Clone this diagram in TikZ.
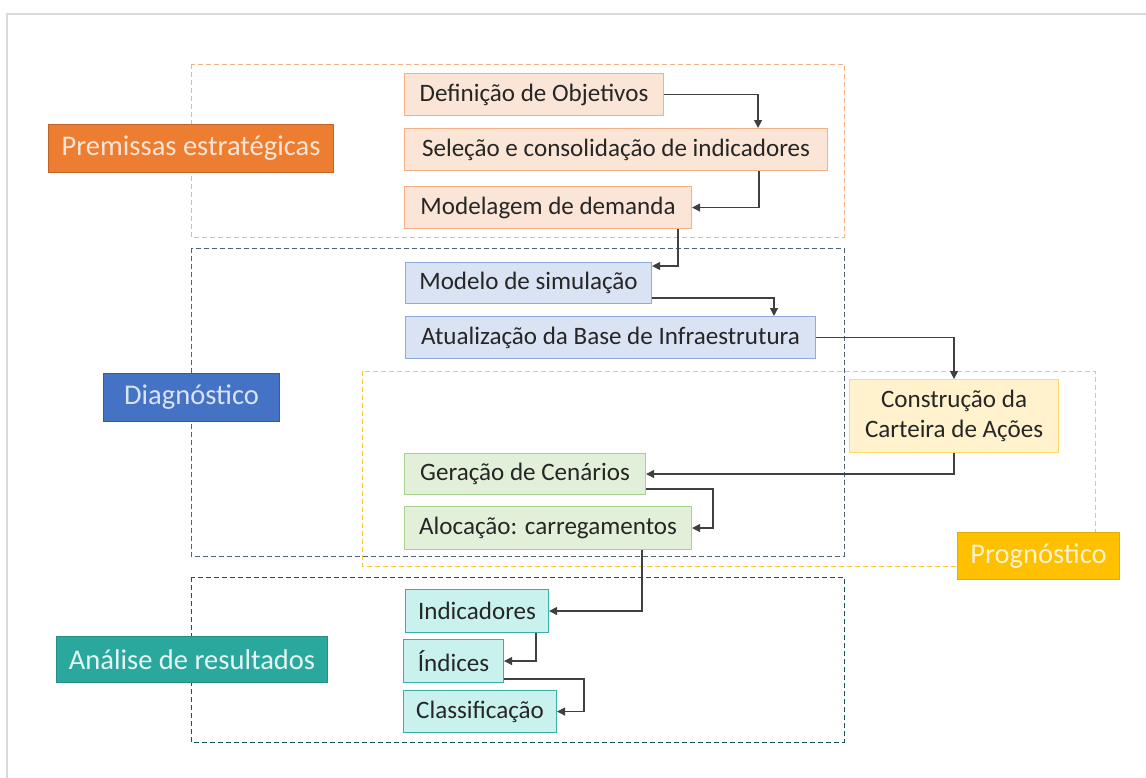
\documentclass[tikz,border=0pt]{standalone}
\usepackage{fontspec}
\setmainfont{Carlito}
\usetikzlibrary{arrows.meta,calc}

\definecolor{oraFill}{HTML}{FBE5D6}
\definecolor{oraLine}{HTML}{F4B183}
\definecolor{bluFill}{HTML}{DAE3F3}
\definecolor{bluLine}{HTML}{8FAADC}
\definecolor{yelFill}{HTML}{FFF2CC}
\definecolor{yelLine}{HTML}{FFD966}
\definecolor{grnFill}{HTML}{E2F0D9}
\definecolor{grnLine}{HTML}{A9D18E}
\definecolor{cyaFill}{HTML}{C9F2EF}
\definecolor{cyaLine}{HTML}{3AAFA9}
\definecolor{oraTag}{HTML}{ED7D31}
\definecolor{bluTag}{HTML}{4472C4}
\definecolor{teaTag}{HTML}{2BA89E}
\definecolor{golTag}{HTML}{FFC000}
\definecolor{slate}{HTML}{50627A}
\definecolor{arrowGray}{HTML}{404040}
\definecolor{txtGray}{HTML}{262626}

\tikzset{
  dims/.style 2 args={minimum width=#1*0.75pt, minimum height=#2*0.75pt},
  stepnode/.style={draw, line width=0.8pt, anchor=north west, inner sep=0pt,
    text=txtGray, font=\fontsize{18.8}{22}\selectfont, align=center},
  tagnode/.style={draw, line width=0.8pt, anchor=north west, inner sep=0pt,
    font=\fontsize{21.4}{25}\selectfont},
  region/.style={dashed, dash pattern=on 3.5pt off 2.5pt, line width=0.7pt},
  conn/.style={draw=arrowGray, line width=0.9pt, -{Triangle[length=6pt,width=6pt]}}
}

\begin{document}
\begin{tikzpicture}[x=0.75pt, y=-0.75pt]
	\useasboundingbox (0,0) rectangle (1146,778);
	\draw[gray!30, line width=1.2pt] (7,778) -- (7,14) -- (1146,14);

	% regions
	\draw[region, oraLine] (191,64) rectangle (844,237);
	\draw[region, slate] (191,248) rectangle (844,556);
	\draw[region, golTag!85!white] (362,371) rectangle (1095,566);
	\draw[region, teaTag!50!black] (191,577) rectangle (844,742);

	% Premissas
	\node[stepnode, fill=oraFill, draw=oraLine, dims={259}{42}] (def) at (404,73) {Definição de Objetivos};
	\node[stepnode, fill=oraFill, draw=oraLine, dims={423}{42}] (sel) at (404,128) {Seleção e consolidação de indicadores};
	\node[stepnode, fill=oraFill, draw=oraLine, dims={287}{42}] (mod) at (404,186) {Modelagem de demanda};

	% Diagnostico
	\node[stepnode, fill=bluFill, draw=bluLine, dims={246}{41}] (sim) at (405,262) {Modelo de simulação};
	\node[stepnode, fill=bluFill, draw=bluLine, dims={410}{42}] (upd) at (405,316) {Atualização da Base de Infraestrutura};

	% Prognostico
	\node[stepnode, fill=yelFill, draw=yelLine, dims={209}{73}] (cart) at (849,379) {Construção da\\Carteira de Ações};
	\node[stepnode, fill=grnFill, draw=grnLine, dims={241}{41}] (ger) at (404,453) {Geração de Cenários};
	\node[stepnode, fill=grnFill, draw=grnLine, dims={287}{43}] (aloc) at (404,506) {Alocação: carregamentos};

	% Analise
	\node[stepnode, fill=cyaFill, draw=cyaLine, dims={143}{43}] (ind) at (405,589) {Indicadores};
	\node[stepnode, fill=cyaFill, draw=cyaLine, dims={100}{43}] (idx) at (403,639) {Índices};
	\node[stepnode, fill=cyaFill, draw=cyaLine, dims={153}{42}] (cls) at (403,690) {Classificação};

	% tags
	\node[tagnode, fill=oraTag, draw=oraTag!80!black, text=oraFill, dims={285}{48}] (tagPre) at (48,124) {Premissas estratégicas};
	\node[tagnode, fill=bluTag, draw=bluTag!80!black, text=bluFill, dims={176}{48}] (tagDia) at (103,373) {Diagnóstico};
	\node[tagnode, fill=teaTag, draw=teaTag!85!black, text=white!88!teaTag, dims={271}{46}] (tagAna) at (56,636) {Análise de resultados};
	\node[tagnode, fill=golTag, draw=golTag!90!black, text=yelFill, dims={162}{47}] (tagPro) at (957,532) {Prognóstico};

	% connectors
	\draw[conn] (def.east) -| ($(sel.north east)+(-70,0)$);
	\draw[conn] ($(sel.south east)+(-69,0)$) |- (mod.east);
	\draw[conn] ($(mod.south east)+(-14,0)$) |- ($(sim.north east)+(0,4)$);
	\draw[conn] ($(sim.south east)+(0,-6)$) -| ($(upd.north west)+(369,0)$);
	\draw[conn] (upd.east) -| (cart.north);
	\draw[conn] (cart.south) |- (ger.east);
	\draw[conn] ($(ger.south east)+(0,-6)$) -| ($(aloc.east)+(21,0)$) -- (aloc.east);
	\draw[conn] ($(aloc.south west)+(238,0)$) |- (ind.east);
	\draw[conn] ($(ind.south east)+(-13,0)$) |- (idx.east);
	\draw[conn] ($(idx.south east)+(0,-4)$) -| ($(cls.east)+(27,0)$) -- (cls.east);
\end{tikzpicture}
\end{document}
